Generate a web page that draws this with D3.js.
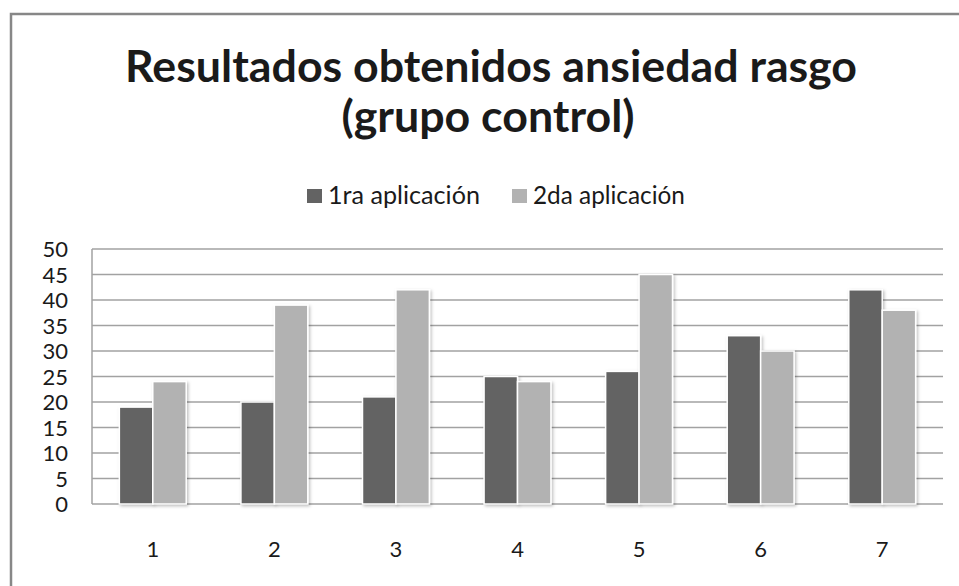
<!DOCTYPE html>
<html>
<head>
<meta charset="utf-8">
<script src="https://cdn.jsdelivr.net/npm/d3@7"></script>
<style>
    body { margin: 0; background: #fff; }
    svg text { font-family: Lato, "Open Sans", sans-serif; fill: #1a1a1a; }
</style>
</head>
<body>
<svg id="chart" width="959" height="586"></svg>
<script>
    const categories = ["1", "2", "3", "4", "5", "6", "7"];
    const seriesNames = ["1ra aplicación", "2da aplicación"];
    const primera = [19, 20, 21, 25, 26, 33, 42];
    const segunda = [24, 39, 42, 24, 45, 30, 38];
    const yTicks = [0, 5, 10, 15, 20, 25, 30, 35, 40, 45, 50];
    const colors = ["#636363", "#b2b2b2"];

    const svg = d3.select("#chart");

    // marco exterior
    svg.append("rect")
        .attr("x", 11).attr("y", 14)
        .attr("width", 1000).attr("height", 700)
        .attr("fill", "none").attr("stroke", "#878787").attr("stroke-width", 2.5);

    const defs = svg.append("defs");
    const f = defs.append("filter").attr("id", "sombra")
        .attr("x", "-20%").attr("y", "-10%").attr("width", "150%").attr("height", "130%");
    f.append("feDropShadow").attr("dx", 1.5).attr("dy", 1.5)
        .attr("stdDeviation", 1.5).attr("flood-color", "#000").attr("flood-opacity", 0.25);

    const plot = {left: 92, right: 943, top: 249, bottom: 504};

    const x = d3.scaleBand().domain(categories)
        .range([plot.left, plot.right]).paddingInner(0.45).paddingOuter(0.225);
    const xs = d3.scaleBand().domain([0, 1]).range([0, x.bandwidth()]);
    const y = d3.scaleLinear().domain([0, 50]).range([plot.bottom, plot.top]);

    // titulo, ajustado al ancho de la referencia
    function fitText(sel, targetWidth, size) {
        sel.attr("font-size", size);
        const w = sel.node().getComputedTextLength();
        sel.attr("font-size", size * targetWidth / w);
    }
    const t1 = svg.append("text").attr("x", 491).attr("y", 82)
        .attr("text-anchor", "middle").attr("font-weight", "bold")
        .text("Resultados obtenidos ansiedad rasgo");
    fitText(t1, 732, 40);
    const t2 = svg.append("text").attr("x", 488).attr("y", 132)
        .attr("text-anchor", "middle").attr("font-weight", "bold")
        .attr("font-size", t1.attr("font-size"))
        .text("(grupo control)");

    // leyenda
    const legendX = [307, 512];
    seriesNames.forEach((name, i) => {
        svg.append("rect").attr("x", legendX[i]).attr("y", 189)
            .attr("width", 15).attr("height", 14).attr("fill", colors[i]);
        const lt = svg.append("text").attr("x", legendX[i] + 21).attr("y", 204)
            .text(name);
        fitText(lt, 152, 20);
    });

    // cuadricula
    svg.append("g").selectAll("line").data(yTicks).join("line")
        .attr("x1", plot.left).attr("x2", plot.right)
        .attr("y1", d => y(d)).attr("y2", d => y(d))
        .attr("stroke", "#a2a2a2").attr("stroke-width", 1.5);
    svg.append("line")
        .attr("x1", plot.left).attr("x2", plot.left)
        .attr("y1", plot.top).attr("y2", plot.bottom)
        .attr("stroke", "#a2a2a2").attr("stroke-width", 1.5);

    // eje y
    const yAxis = svg.append("g")
        .attr("transform", `translate(${plot.left - 24},0)`)
        .call(d3.axisLeft(y).tickValues(yTicks).tickSize(0).tickPadding(0));
    yAxis.select(".domain").remove();
    yAxis.selectAll("text").attr("font-size", 22).attr("fill", "#1a1a1a")
        .attr("font-family", "Lato, sans-serif").attr("dy", "0.36em");

    // eje x
    const xAxis = svg.append("g")
        .attr("transform", `translate(0,${plot.bottom})`)
        .call(d3.axisBottom(x).tickSize(0).tickPadding(0));
    xAxis.select(".domain").remove();
    xAxis.selectAll("text").attr("font-size", 22).attr("fill", "#1a1a1a")
        .attr("font-family", "Lato, sans-serif").attr("y", 53).attr("dy", 0);

    // barras
    const rows = categories.map((c, i) => ({cat: c, vals: [primera[i], segunda[i]]}));
    svg.append("g").selectAll("g").data(rows).join("g")
        .attr("transform", d => `translate(${x(d.cat)},0)`)
        .selectAll("rect").data(d => d.vals.map((v, s) => ({v, s}))).join("rect")
        .attr("x", d => xs(d.s))
        .attr("width", xs.bandwidth())
        .attr("y", d => y(d.v))
        .attr("height", d => y(0) - y(d.v))
        .attr("fill", d => colors[d.s])
        .attr("stroke", "#fff").attr("stroke-width", 1.5)
        .attr("filter", "url(#sombra)");
</script>
</body>
</html>
